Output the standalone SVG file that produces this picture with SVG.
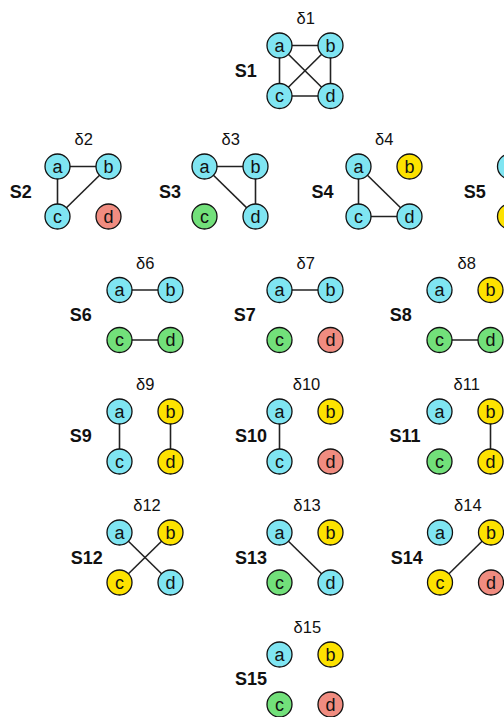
<svg xmlns="http://www.w3.org/2000/svg" width="504" height="717" viewBox="0 0 504 717">
<style>
circle{stroke:#111;stroke-width:1.3}
.c{fill:#7fe5f2}.y{fill:#fde200}.g{fill:#72e07a}.r{fill:#f08c80}
text{font-family:"Liberation Sans",Arial,sans-serif;fill:#111}
.n text{font-size:18px;text-anchor:middle}
.dl{font-size:16.5px;text-anchor:middle}
.sl{font-size:18px;font-weight:bold;text-anchor:middle}
#edges line{stroke:#222;stroke-width:1.6}
</style>
<rect width="504" height="717" fill="#fff"/>
<g id="edges">
<line x1="279.5" y1="45.5" x2="330.5" y2="45.5"/><line x1="279.5" y1="45.5" x2="279.5" y2="96"/><line x1="330.5" y1="45.5" x2="330.5" y2="96"/><line x1="279.5" y1="96" x2="330.5" y2="96"/><line x1="279.5" y1="45.5" x2="330.5" y2="96"/><line x1="330.5" y1="45.5" x2="279.5" y2="96"/>
<line x1="57.5" y1="166.5" x2="108.5" y2="166.5"/><line x1="57.5" y1="166.5" x2="57.5" y2="216.5"/><line x1="108.5" y1="166.5" x2="57.5" y2="216.5"/>
<line x1="204.5" y1="166.5" x2="255.5" y2="166.5"/><line x1="204.5" y1="166.5" x2="255.5" y2="216.5"/><line x1="255.5" y1="166.5" x2="255.5" y2="216.5"/>
<line x1="358.5" y1="166.5" x2="358.5" y2="216.5"/><line x1="358.5" y1="166.5" x2="409.5" y2="216.5"/><line x1="358.5" y1="216.5" x2="409.5" y2="216.5"/>
<line x1="119.5" y1="290" x2="170.5" y2="290"/><line x1="119.5" y1="340" x2="170.5" y2="340"/>
<line x1="279.5" y1="290" x2="330.5" y2="290"/>
<line x1="439.5" y1="340" x2="490.5" y2="340"/>
<line x1="119.5" y1="411.5" x2="119.5" y2="461.5"/><line x1="170.5" y1="411.5" x2="170.5" y2="461.5"/>
<line x1="279.5" y1="411.5" x2="279.5" y2="461.5"/>
<line x1="490.5" y1="411.5" x2="490.5" y2="461.5"/>
<line x1="119.5" y1="532.5" x2="170.5" y2="582.5"/><line x1="170.5" y1="532.5" x2="119.5" y2="582.5"/>
<line x1="279.5" y1="532.5" x2="330.5" y2="582.5"/>
<line x1="491" y1="532.5" x2="440" y2="582.5"/>
</g>
<g id="labels">
<text class="dl" x="305.8" y="23.5">δ1</text><text class="sl" x="245.8" y="77">S1</text>
<text class="dl" x="83.8" y="145">δ2</text><text class="sl" x="20.8" y="198">S2</text>
<text class="dl" x="230.8" y="145">δ3</text><text class="sl" x="170" y="198">S3</text>
<text class="dl" x="384.2" y="145">δ4</text><text class="sl" x="322.5" y="198">S4</text>
<text class="sl" x="474.7" y="198">S5</text>
<text class="dl" x="145.3" y="268.5">δ6</text><text class="sl" x="80.8" y="320.5">S6</text>
<text class="dl" x="305.8" y="268.5">δ7</text><text class="sl" x="244.7" y="320.5">S7</text>
<text class="dl" x="466.7" y="268.5">δ8</text><text class="sl" x="400.8" y="320.5">S8</text>
<text class="dl" x="145.3" y="390">δ9</text><text class="sl" x="80.8" y="442">S9</text>
<text class="dl" x="306.5" y="390">δ10</text><text class="sl" x="251" y="442">S10</text>
<text class="dl" x="466.7" y="390">δ11</text><text class="sl" x="405" y="442">S11</text>
<text class="dl" x="147" y="511">δ12</text><text class="sl" x="86.7" y="563.5">S12</text>
<text class="dl" x="307" y="511">δ13</text><text class="sl" x="251" y="563.5">S13</text>
<text class="dl" x="467.8" y="511">δ14</text><text class="sl" x="406.7" y="563.5">S14</text>
<text class="dl" x="307.3" y="633">δ15</text><text class="sl" x="251" y="685">S15</text>
</g>
<g id="s1a" class="n" transform="translate(279.5,45.5)"><circle r="12.5" class="c"/><text y="6">a</text></g>
<g id="s1b" class="n" transform="translate(330.5,45.5)"><circle r="12.5" class="c"/><text y="6">b</text></g>
<g id="s1c" class="n" transform="translate(279.5,96)"><circle r="12.5" class="c"/><text y="6">c</text></g>
<g id="s1d" class="n" transform="translate(330.5,96)"><circle r="12.5" class="c"/><text y="6">d</text></g>
<g id="s2a" class="n" transform="translate(57.5,166.5)"><circle r="12.5" class="c"/><text y="6">a</text></g>
<g id="s2b" class="n" transform="translate(108.5,166.5)"><circle r="12.5" class="c"/><text y="6">b</text></g>
<g id="s2c" class="n" transform="translate(57.5,216.5)"><circle r="12.5" class="c"/><text y="6">c</text></g>
<g id="s2d" class="n" transform="translate(108.5,216.5)"><circle r="12.5" class="r"/><text y="6">d</text></g>
<g id="s3a" class="n" transform="translate(204.5,166.5)"><circle r="12.5" class="c"/><text y="6">a</text></g>
<g id="s3b" class="n" transform="translate(255.5,166.5)"><circle r="12.5" class="c"/><text y="6">b</text></g>
<g id="s3c" class="n" transform="translate(204.5,216.5)"><circle r="12.5" class="g"/><text y="6">c</text></g>
<g id="s3d" class="n" transform="translate(255.5,216.5)"><circle r="12.5" class="c"/><text y="6">d</text></g>
<g id="s4a" class="n" transform="translate(358.5,166.5)"><circle r="12.5" class="c"/><text y="6">a</text></g>
<g id="s4b" class="n" transform="translate(409.5,166.5)"><circle r="12.5" class="y"/><text y="6">b</text></g>
<g id="s4c" class="n" transform="translate(358.5,216.5)"><circle r="12.5" class="c"/><text y="6">c</text></g>
<g id="s4d" class="n" transform="translate(409.5,216.5)"><circle r="12.5" class="c"/><text y="6">d</text></g>
<g id="s5a" class="n" transform="translate(510,166.5)"><circle r="12.5" class="c"/></g>
<g id="s5c" class="n" transform="translate(510,216.5)"><circle r="12.5" class="y"/></g>
<g id="s6a" class="n" transform="translate(119.5,290)"><circle r="12.5" class="c"/><text y="6">a</text></g>
<g id="s6b" class="n" transform="translate(170.5,290)"><circle r="12.5" class="c"/><text y="6">b</text></g>
<g id="s6c" class="n" transform="translate(119.5,340)"><circle r="12.5" class="g"/><text y="6">c</text></g>
<g id="s6d" class="n" transform="translate(170.5,340)"><circle r="12.5" class="g"/><text y="6">d</text></g>
<g id="s7a" class="n" transform="translate(279.5,290)"><circle r="12.5" class="c"/><text y="6">a</text></g>
<g id="s7b" class="n" transform="translate(330.5,290)"><circle r="12.5" class="c"/><text y="6">b</text></g>
<g id="s7c" class="n" transform="translate(279.5,340)"><circle r="12.5" class="g"/><text y="6">c</text></g>
<g id="s7d" class="n" transform="translate(330.5,340)"><circle r="12.5" class="r"/><text y="6">d</text></g>
<g id="s8a" class="n" transform="translate(439.5,290)"><circle r="12.5" class="c"/><text y="6">a</text></g>
<g id="s8b" class="n" transform="translate(490.5,290)"><circle r="12.5" class="y"/><text y="6">b</text></g>
<g id="s8c" class="n" transform="translate(439.5,340)"><circle r="12.5" class="g"/><text y="6">c</text></g>
<g id="s8d" class="n" transform="translate(490.5,340)"><circle r="12.5" class="g"/><text y="6">d</text></g>
<g id="s9a" class="n" transform="translate(119.5,411.5)"><circle r="12.5" class="c"/><text y="6">a</text></g>
<g id="s9b" class="n" transform="translate(170.5,411.5)"><circle r="12.5" class="y"/><text y="6">b</text></g>
<g id="s9c" class="n" transform="translate(119.5,461.5)"><circle r="12.5" class="c"/><text y="6">c</text></g>
<g id="s9d" class="n" transform="translate(170.5,461.5)"><circle r="12.5" class="y"/><text y="6">d</text></g>
<g id="s10a" class="n" transform="translate(279.5,411.5)"><circle r="12.5" class="c"/><text y="6">a</text></g>
<g id="s10b" class="n" transform="translate(330.5,411.5)"><circle r="12.5" class="y"/><text y="6">b</text></g>
<g id="s10c" class="n" transform="translate(279.5,461.5)"><circle r="12.5" class="c"/><text y="6">c</text></g>
<g id="s10d" class="n" transform="translate(330.5,461.5)"><circle r="12.5" class="r"/><text y="6">d</text></g>
<g id="s11a" class="n" transform="translate(439.5,411.5)"><circle r="12.5" class="c"/><text y="6">a</text></g>
<g id="s11b" class="n" transform="translate(490.5,411.5)"><circle r="12.5" class="y"/><text y="6">b</text></g>
<g id="s11c" class="n" transform="translate(439.5,461.5)"><circle r="12.5" class="g"/><text y="6">c</text></g>
<g id="s11d" class="n" transform="translate(490.5,461.5)"><circle r="12.5" class="y"/><text y="6">d</text></g>
<g id="s12a" class="n" transform="translate(119.5,532.5)"><circle r="12.5" class="c"/><text y="6">a</text></g>
<g id="s12b" class="n" transform="translate(170.5,532.5)"><circle r="12.5" class="y"/><text y="6">b</text></g>
<g id="s12c" class="n" transform="translate(119.5,582.5)"><circle r="12.5" class="y"/><text y="6">c</text></g>
<g id="s12d" class="n" transform="translate(170.5,582.5)"><circle r="12.5" class="c"/><text y="6">d</text></g>
<g id="s13a" class="n" transform="translate(279.5,532.5)"><circle r="12.5" class="c"/><text y="6">a</text></g>
<g id="s13b" class="n" transform="translate(330.5,532.5)"><circle r="12.5" class="y"/><text y="6">b</text></g>
<g id="s13c" class="n" transform="translate(279.5,582.5)"><circle r="12.5" class="g"/><text y="6">c</text></g>
<g id="s13d" class="n" transform="translate(330.5,582.5)"><circle r="12.5" class="c"/><text y="6">d</text></g>
<g id="s14a" class="n" transform="translate(440,532.5)"><circle r="12.5" class="c"/><text y="6">a</text></g>
<g id="s14b" class="n" transform="translate(491,532.5)"><circle r="12.5" class="y"/><text y="6">b</text></g>
<g id="s14c" class="n" transform="translate(440,582.5)"><circle r="12.5" class="y"/><text y="6">c</text></g>
<g id="s14d" class="n" transform="translate(491,582.5)"><circle r="12.5" class="r"/><text y="6">d</text></g>
<g id="s15a" class="n" transform="translate(279.5,654.5)"><circle r="12.5" class="c"/><text y="6">a</text></g>
<g id="s15b" class="n" transform="translate(330.5,654.5)"><circle r="12.5" class="y"/><text y="6">b</text></g>
<g id="s15c" class="n" transform="translate(279.5,704.5)"><circle r="12.5" class="g"/><text y="6">c</text></g>
<g id="s15d" class="n" transform="translate(330.5,704.5)"><circle r="12.5" class="r"/><text y="6">d</text></g>
</svg>
